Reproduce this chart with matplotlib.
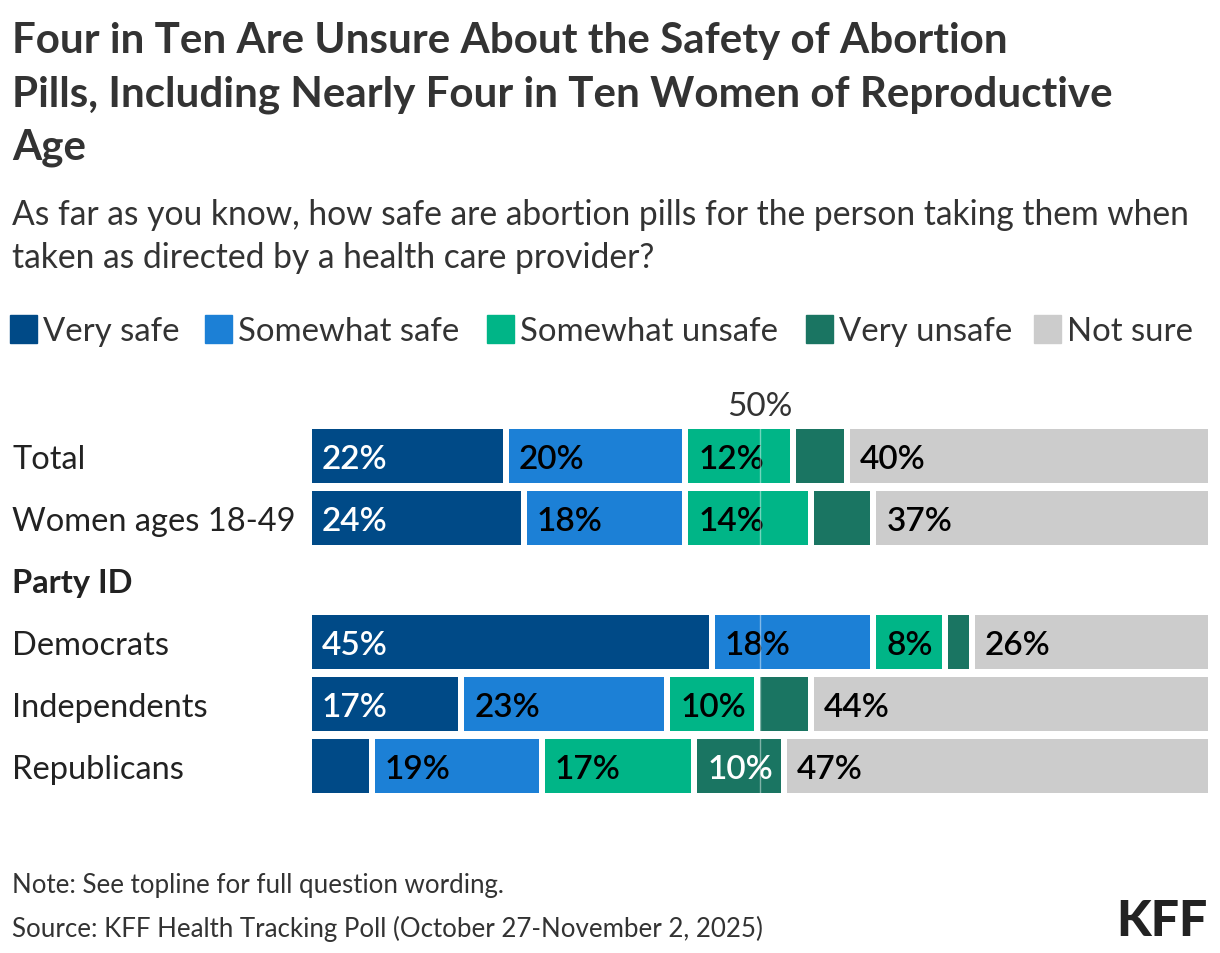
import numpy as np
import matplotlib.pyplot as plt
from matplotlib.patches import Rectangle

plt.rcParams['font.family'] = ['Lato', 'DejaVu Sans']

# Données
categories = ["Total", "Women ages 18-49", "Party ID", "Democrats", "Independents", "Republicans"]
series = ["Very safe", "Somewhat safe", "Somewhat unsafe", "Very unsafe", "Not sure"]
very_safe       = [22, 24, None, 45, 17, 7]
somewhat_safe   = [20, 18, None, 18, 23, 19]
somewhat_unsafe = [12, 14, None, 8, 10, 17]
very_unsafe     = [6, 7, None, 3, 6, 10]
not_sure        = [40, 37, None, 26, 44, 47]
values = [very_safe, somewhat_safe, somewhat_unsafe, very_unsafe, not_sure]

colors = ['#004A87', '#1C80D6', '#00B587', '#1A7562', '#CCCCCC']
text_colors = ['white', 'black', 'black', 'white', 'black']
min_label = 8  # les petits segments n'ont pas d'étiquette

W, H = 1220, 954
fig = plt.figure(figsize=(W / 100, H / 100), dpi=100)

def fx(px): return px / W
def fy(py): return 1 - py / H

# Axe des barres : x de 312 à 1208 px, lignes de 426 à 798 px
ax = fig.add_axes([fx(312), fy(798), fx(1208) - fx(312), fy(426) - fy(798)])
ax.set_xlim(0, 100)
ax.set_ylim(len(categories) - 0.5, -0.5)
ax.axis('off')

gap = 6 / 8.96  # écart blanc entre segments, en unités de données
bar_h = 54 / 62

for i, cat in enumerate(categories):
    if very_safe[i] is None:
        continue
    left = 0
    for k in range(len(series)):
        v = values[k][i]
        w = v - gap if k < len(series) - 1 else v
        ax.barh(i, w, left=left, height=bar_h, color=colors[k], linewidth=0)
        if v >= min_label:
            ax.text(left + 1.1, i, f"{v}%", ha='left', va='center_baseline',
                    color=text_colors[k], fontsize=24, fontweight='semibold')
        left += v

ax.axvline(50, color='white', alpha=0.45, lw=1, zorder=5)
fig.text(fx(312 + 896 * 0.5), fy(404), "50%", ha='center', va='center_baseline',
         fontsize=24, color='#333333')

# Étiquettes des catégories
for i, cat in enumerate(categories):
    yy = 457 + 62 * i
    bold = cat == "Party ID"
    fig.text(fx(12), fy(yy), cat, ha='left', va='center_baseline', fontsize=23.5,
             color='#222222', fontweight='bold' if bold else 'normal')

# Titre et sous-titre
title = ["Four in Ten Are Unsure About the Safety of Abortion",
         "Pills, Including Nearly Four in Ten Women of Reproductive",
         "Age"]
for j, line in enumerate(title):
    fig.text(fx(12), fy(38 + 53 * j), line, ha='left', va='center_baseline',
             fontsize=30.3, fontweight='bold', color='#333333')

subtitle = ["As far as you know, how safe are abortion pills for the person taking them when",
            "taken as directed by a health care provider?"]
for j, line in enumerate(subtitle):
    fig.text(fx(12), fy(212 + 43 * j), line, ha='left', va='center_baseline',
             fontsize=24.2, color='#333333')

# Légende
leg_x = [10, 205, 487, 806, 1034]
for k, name in enumerate(series):
    x0 = leg_x[k]
    fig.patches.append(Rectangle((fx(x0), fy(344)), fx(27), 28 / H,
                                 transform=fig.transFigure, color=colors[k]))
    fig.text(fx(x0 + 33), fy(329), name, ha='left', va='center_baseline',
             fontsize=23.7, color='#333333')

# Notes
fig.text(fx(12), fy(883), "Note: See topline for full question wording.",
         ha='left', va='center_baseline', fontsize=18.6, color='#333333')
fig.text(fx(12), fy(926), "Source: KFF Health Tracking Poll (October 27-November 2, 2025)",
         ha='left', va='center_baseline', fontsize=18.6, color='#333333')
fig.text(fx(1208), fy(922), "KFF", ha='right', va='center', fontsize=36,
         fontweight='black', color='#222222')

fig.savefig("out.png", dpi=100, facecolor='white')
